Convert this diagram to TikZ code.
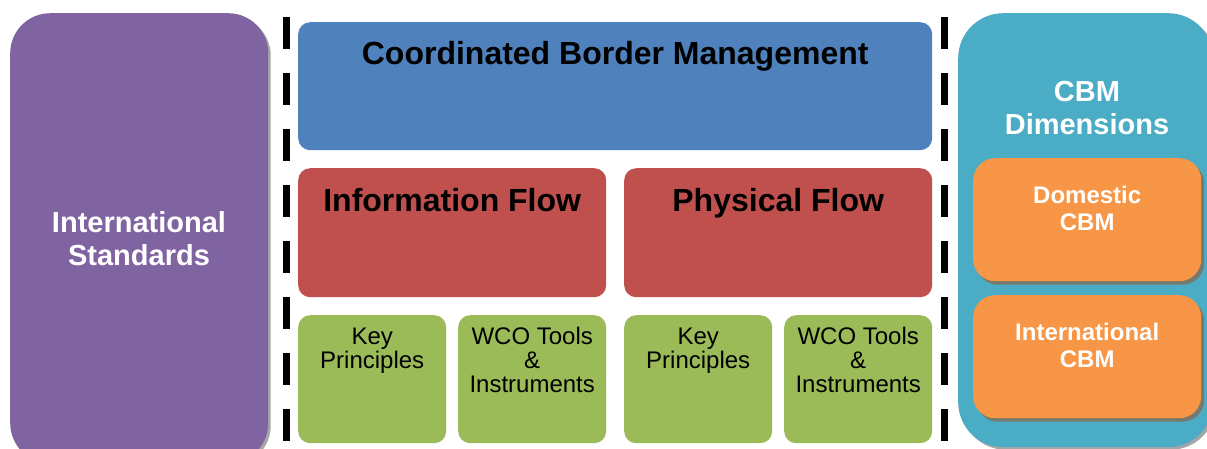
\documentclass[tikz,border=0pt]{standalone}
\usepackage{fontspec}
\setmainfont{Liberation Sans}
\usepackage{tikz}
\usetikzlibrary{shadows}

\definecolor{stdpurple}{RGB}{128,100,162}
\definecolor{cbmblue}{RGB}{79,129,189}
\definecolor{flowred}{RGB}{192,80,77}
\definecolor{toolgreen}{RGB}{155,187,89}
\definecolor{dimteal}{RGB}{75,172,198}
\definecolor{dimorange}{RGB}{247,150,70}
\definecolor{shadowgray}{RGB}{118,122,108}

\begin{document}
\begin{tikzpicture}[x=1pt,y=-1pt,
        panel/.style={inner sep=0pt,anchor=north west},
        softshadow/.style={drop shadow={shadow xshift=2.5pt,shadow yshift=-2.5pt,fill=black,opacity=0.35}},
        hardshadow/.style={drop shadow={shadow xshift=3pt,shadow yshift=-3.5pt,fill=shadowgray,opacity=1}},
        bigtitle/.style={font=\fontsize{32}{32}\selectfont\bfseries,text=black,text height=23.5pt,text depth=0pt},
        sidetitle/.style={font=\fontsize{29}{33}\selectfont\bfseries,text=white,align=center},
        dimtitle/.style={font=\fontsize{24}{27}\selectfont\bfseries,text=white,align=center},
        tooltext/.style={font=\fontsize{24}{24}\selectfont,text=black,align=center},
        dashline/.style={line width=7pt,dash pattern=on 32pt off 24pt}]
            \clip (0,0) rectangle (1207,448);
            % outer columns
            \node[panel,softshadow,fill=stdpurple,rounded corners=40pt,minimum width=258pt,minimum height=450pt] (std) at (10,13) {};
            \node[panel,softshadow,fill=dimteal,rounded corners=45pt,minimum width=255pt,minimum height=434pt] (dim) at (958,13) {};
            % middle part
            \node[panel,fill=cbmblue,rounded corners=12pt,minimum width=634pt,minimum height=128pt] (cbm) at (298,22) {};
            \node[panel,fill=flowred,rounded corners=12pt,minimum width=308pt,minimum height=129pt] (info) at (298,168) {};
            \node[panel,fill=flowred,rounded corners=12pt,minimum width=308pt,minimum height=129pt] (phys) at (624,168) {};
            \node[panel,fill=toolgreen,rounded corners=12pt,minimum width=148pt,minimum height=128pt] (infokey) at (298,315) {};
            \node[panel,fill=toolgreen,rounded corners=12pt,minimum width=148pt,minimum height=128pt] (infotools) at (458,315) {};
            \node[panel,fill=toolgreen,rounded corners=12pt,minimum width=148pt,minimum height=128pt] (physkey) at (624,315) {};
            \node[panel,fill=toolgreen,rounded corners=12pt,minimum width=148pt,minimum height=128pt] (phystools) at (784,315) {};
            % dimensions
            \node[panel,hardshadow,fill=dimorange,rounded corners=22pt,minimum width=228pt,minimum height=123pt] (domestic) at (973,158) {};
            \node[panel,hardshadow,fill=dimorange,rounded corners=22pt,minimum width=228pt,minimum height=123pt] (intl) at (973,295) {};
            % texts
            \node[sidetitle] (stdtext) at (139,239) {International\\Standards};
            \node[sidetitle] (dimtext) at (1087,108) {CBM\\Dimensions};
            \node[bigtitle] (cbmtext) at ([yshift=-31pt]cbm.north) {Coordinated Border Management};
            \node[bigtitle] (infotext) at ([yshift=-32pt]info.north) {Information Flow};
            \node[bigtitle] (phystext) at ([yshift=-32pt]phys.north) {Physical Flow};
            \node[tooltext] (infokeytext) at ([yshift=-36pt]infokey.north) {Key\\Principles};
            \node[tooltext] (infotoolstext) at ([yshift=-45pt]infotools.north) {WCO Tools\\\&\\Instruments};
            \node[tooltext] (physkeytext) at ([yshift=-36pt]physkey.north) {Key\\Principles};
            \node[tooltext] (phystoolstext) at ([yshift=-45pt]phystools.north) {WCO Tools\\\&\\Instruments};
            \node[dimtitle] (domestictext) at ([yshift=-50pt]domestic.north) {Domestic\\CBM};
            \node[dimtitle] (intltext) at ([yshift=-50pt]intl.north) {International\\CBM};
            % separators
            \draw[dashline] (286.5,17) -- (286.5,460);
            \draw[dashline] (944.5,17) -- (944.5,460);
        \end{tikzpicture}
\end{document}
